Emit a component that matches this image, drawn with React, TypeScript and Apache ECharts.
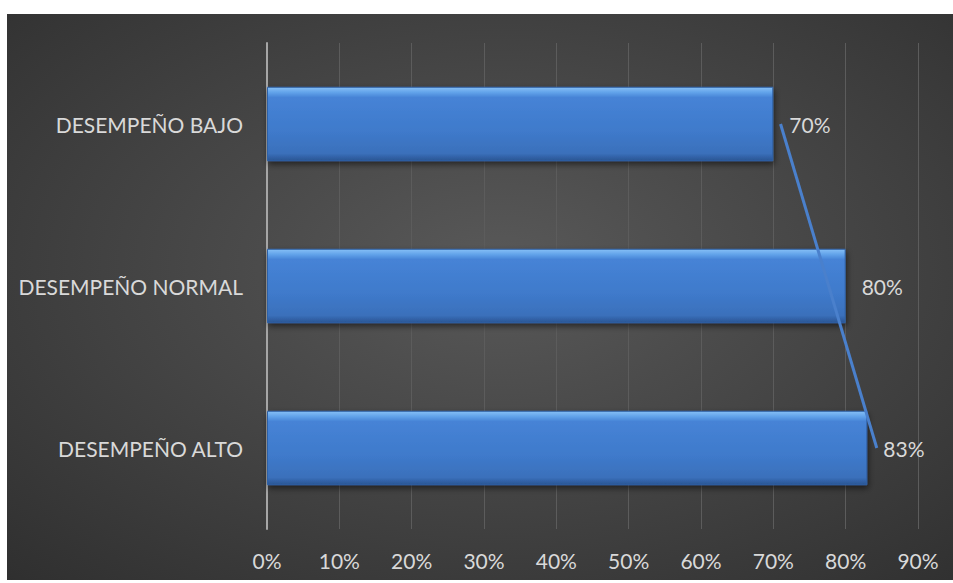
import React, { useEffect, useRef } from "react";
import * as echarts from "echarts";

const categories = ["DESEMPEÑO BAJO", "DESEMPEÑO NORMAL", "DESEMPEÑO ALTO"];
const barValues = [70, 80, 83];
const trendPoints: [number, string][] = [
  [71, "DESEMPEÑO BAJO"],
  [84.3, "DESEMPEÑO ALTO"],
];
const axisMax = 90;
const axisStep = 10;

export default function App() {
  const ref = useRef<HTMLDivElement>(null);
  useEffect(() => {
    if (!ref.current) return;
    const chart = echarts.init(ref.current, undefined, { renderer: "svg" });
    const font = "Lato, 'Open Sans', sans-serif";
    chart.setOption({
      animation: false,
      backgroundColor: "#ffffff",
      graphic: [
        {
          type: "rect",
          z: -100,
          silent: true,
          shape: { x: 7, y: 14, width: 946, height: 566 },
          style: {
            fill: new echarts.graphic.RadialGradient(0.52, 0.45, 1.0, [
              { offset: 0, color: "#595959" },
              { offset: 1, color: "#222222" },
            ]),
          },
        },
      ],
      grid: { left: 267, right: 35, top: 43, bottom: 54, containLabel: false },
      xAxis: {
        type: "value",
        min: 0,
        max: axisMax,
        interval: axisStep,
        axisLine: { show: false },
        axisTick: { show: false },
        splitLine: { show: true, lineStyle: { color: "#5c5c5c", width: 1 } },
        axisLabel: {
          formatter: "{value}%",
          color: "#d9d9d9",
          fontFamily: font,
          fontSize: 21,
          margin: 21,
        },
      },
      yAxis: {
        type: "category",
        data: categories,
        inverse: true,
        axisLine: { show: true, lineStyle: { color: "#a6a6a6", width: 2 } },
        axisTick: { show: false },
        splitLine: { show: false },
        axisLabel: {
          color: "#d9d9d9",
          fontFamily: font,
          fontSize: 21,
          margin: 24,
        },
      },
      series: [
        {
          type: "bar",
          data: barValues,
          barWidth: "46%",
          itemStyle: {
            color: new echarts.graphic.LinearGradient(0, 0, 0, 1, [
              { offset: 0, color: "#86c0f6" },
              { offset: 0.07, color: "#62a3ea" },
              { offset: 0.14, color: "#4683d6" },
              { offset: 0.6, color: "#3f7acb" },
              { offset: 0.9, color: "#3a70bb" },
              { offset: 1, color: "#2a5593" },
            ]),
            borderColor: "#2f62a8",
            borderWidth: 1,
            shadowColor: "rgba(0,0,0,0.55)",
            shadowBlur: 6,
            shadowOffsetY: 3,
            shadowOffsetX: 1,
          },
          label: {
            show: true,
            position: "right",
            distance: 16,
            formatter: "{c}%",
            color: "#d9d9d9",
            fontFamily: font,
            fontSize: 21,
          },
        },
        {
          type: "line",
          data: trendPoints,
          symbol: "none",
          lineStyle: { color: "#4a80cc", width: 3 },
          z: 5,
        },
      ],
    });
    return () => chart.dispose();
  }, []);
  return (
    <div
      ref={ref}
      style={{ position: "absolute", left: 0, top: 0, width: 953, height: 583 }}
    />
  );
}
